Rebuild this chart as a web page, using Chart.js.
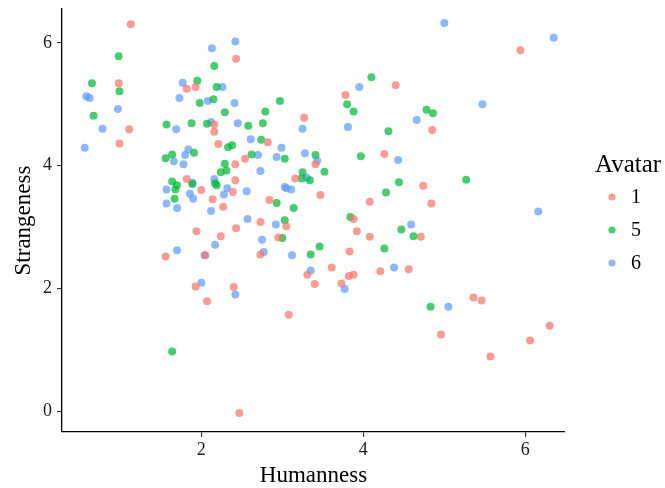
<!DOCTYPE html>
<html>
<head>
<meta charset="utf-8">
<script src="https://cdn.jsdelivr.net/npm/chart.js@4"></script>
<style>
  html, body { margin: 0; padding: 0; background: #fff; }
</style>
</head>
<body>
<canvas id="avatarChart" width="665" height="488"></canvas>
<script>
// Humanness vs strangeness ratings, one series per avatar
const avatars = ["1", "5", "6"];
const avatarColors = ["rgba(248,118,109,0.72)", "rgba(0,186,56,0.72)", "rgba(97,156,255,0.72)"];

const avatar1X = [1.13,0.98,1.11,0.99,1.82,1.93,2.16,2.16,2.21,2.43,2.82,3.27,3.78,4.40,5.94,4.85,2.54,2.42,3.41,3.16,2.42,1.82,2.00,2.39,2.14,2.27,3.47,2.84,4.26,4.74,4.84,4.08,3.88,3.92,4.08,4.71,1.94,2.24,2.43,2.73,3.05,2.95,1.56,2.05,2.73,3.83,3.31,3.61,3.82,3.88,3.40,3.73,4.21,4.56,1.93,2.40,2.07,3.08,2.47,5.36,5.46,4.96,6.30,6.06,5.57];
const avatar1Y = [6.30,5.34,4.59,4.36,5.25,5.28,4.67,4.55,4.35,5.74,4.38,4.78,5.15,5.31,5.88,4.58,4.11,4.02,4.02,3.79,3.76,3.78,3.60,3.57,3.45,3.33,3.52,3.44,4.19,3.67,3.38,3.41,3.13,2.93,2.84,2.84,2.93,2.85,2.98,3.08,3.01,2.83,2.52,2.54,2.55,2.60,2.22,2.34,2.20,2.22,2.07,2.08,2.28,2.31,2.03,2.02,1.79,1.57,-0.03,1.85,1.80,1.25,1.39,1.15,0.89];

const avatar5X = [0.98,0.65,0.99,0.67,1.95,2.19,2.15,1.98,2.16,1.57,1.88,2.07,2.29,2.79,2.97,2.58,2.76,2.74,2.33,2.38,4.10,3.80,3.88,4.78,4.86,4.31,1.56,1.64,1.91,2.29,2.31,2.24,1.64,1.70,1.68,1.89,2.17,2.19,1.67,2.62,3.03,3.41,3.97,3.25,3.52,3.24,3.34,2.93,3.14,3.03,3.00,3.84,3.46,3.35,4.44,5.27,4.28,4.47,4.62,4.26,1.64,4.83];
const avatar5Y = [5.78,5.34,5.21,4.81,5.38,5.28,5.08,5.02,5.62,4.67,4.69,4.68,4.87,4.88,5.05,4.65,4.69,4.42,4.30,4.33,5.44,5.00,4.88,4.91,4.85,4.56,4.12,4.18,4.21,4.03,3.92,3.89,3.74,3.68,3.61,3.70,3.71,3.68,3.46,4.18,4.11,4.17,4.15,3.89,3.90,3.79,3.76,3.39,3.31,3.11,2.82,3.16,2.68,2.55,3.73,3.77,3.56,2.96,2.85,2.65,0.97,1.70];

const avatar6X = [2.13,2.42,0.58,0.62,0.97,0.78,0.56,1.77,2.26,1.73,2.08,2.41,1.69,2.12,2.45,2.61,3.25,2.99,1.84,3.95,3.81,5.00,6.35,5.47,4.66,1.66,1.80,1.78,2.70,2.93,3.28,3.43,2.73,3.30,2.16,1.89,1.57,2.32,2.28,2.56,3.03,3.05,3.11,1.86,1.90,1.57,1.70,2.12,2.57,2.92,2.17,1.70,2.04,2.75,2.77,3.12,3.35,3.77,2.00,2.42,4.43,4.59,4.38,6.16,5.05];
const avatar6Y = [5.91,6.02,5.13,5.10,4.92,4.60,4.29,5.35,5.28,5.10,5.05,5.02,4.59,4.71,4.69,4.43,4.60,4.29,4.26,5.28,4.63,6.32,6.08,5.00,4.74,4.07,4.17,4.02,4.17,4.14,4.20,4.08,3.91,3.80,3.78,3.72,3.61,3.63,3.53,3.58,3.65,3.63,3.61,3.54,3.46,3.38,3.31,3.26,3.13,3.04,2.71,2.62,2.54,2.79,2.59,2.54,2.29,1.99,2.09,1.90,4.09,3.04,2.34,3.25,1.70];

const xTicks = [2, 4, 6];
const yTicks = [0, 2, 4, 6];

const serif = '"Liberation Serif", "Times New Roman", serif';

function toPoints(xs, ys) {
    return xs.map((x, i) => ({ x: x, y: ys[i] }));
}

const seriesX = [avatar1X, avatar5X, avatar6X];
const seriesY = [avatar1Y, avatar5Y, avatar6Y];

const datasets = avatars.map((name, i) => ({
    label: name,
    data: toPoints(seriesX[i], seriesY[i]),
    backgroundColor: avatarColors[i],
    borderWidth: 0,
    pointRadius: 4,
    pointHoverRadius: 4
}));

// legend drawn by hand on the right, ggplot style
const avatarLegend = {
    id: 'avatarLegend',
    afterDraw(chart) {
        const c = chart.ctx;
        c.save();
        c.fillStyle = '#000';
        c.textBaseline = 'middle';
        c.textAlign = 'left';
        c.font = '25px ' + serif;
        c.fillText('Avatar', 595, 165);
        c.font = '20px ' + serif;
        avatars.forEach((name, i) => {
            const y = 197 + i * 33;
            c.fillStyle = avatarColors[i];
            c.beginPath();
            c.arc(612, y, 3.6, 0, Math.PI * 2);
            c.fill();
            c.fillStyle = '#000';
            c.fillText(name, 631, y + 1);
        });
        c.restore();
    }
};

function axisOptions(min, max, ticks, title, isX) {
    return {
        type: 'linear',
        min: min,
        max: max,
        afterBuildTicks: (s) => { s.ticks = ticks.map(v => ({ value: v })); },
        afterFit: (s) => {
            if (isX) s.height = 56; else s.width = 62;
            s.paddingTop = 0; s.paddingBottom = 0; s.paddingLeft = 0; s.paddingRight = 0;
        },
        grid: { drawOnChartArea: false, drawTicks: true, tickLength: 5, color: '#333', lineWidth: 1.1 },
        border: { display: true, color: '#000', width: 1.3 },
        ticks: { color: '#1a1a1a', font: { family: serif, size: 18 }, padding: isX ? 2 : 5 },
        title: {
            display: true,
            text: title,
            color: '#000',
            font: { family: serif, size: 23, lineHeight: 1.05 },
            padding: isX ? { top: 0, bottom: 0 } : { top: 12, bottom: 0 }
        }
    };
}

const chartCanvas = document.getElementById('avatarChart').getContext('2d');
const avatarChart = new Chart(chartCanvas, {
    type: 'scatter',
    data: { datasets: datasets },
    options: {
        responsive: false,
        animation: false,
        layout: { padding: { top: 9, right: 100, bottom: 0, left: 0 } },
        plugins: {
            legend: { display: false },
            tooltip: { enabled: false }
        },
        scales: {
            x: axisOptions(0.28, 6.49, xTicks, 'Humanness', true),
            y: axisOptions(-0.34, 6.55, yTicks, 'Strangeness', false)
        }
    },
    plugins: [avatarLegend]
});
</script>
</body>
</html>
